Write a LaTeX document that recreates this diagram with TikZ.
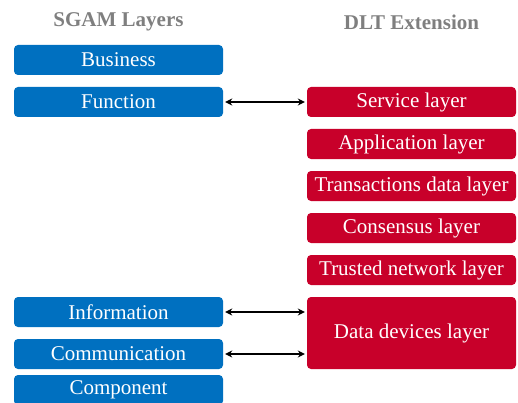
\documentclass[tikz,border=0pt]{standalone}
\usepackage{fontspec}
\setmainfont{Liberation Serif}
\usetikzlibrary{arrows.meta}
\definecolor{sgamblue}{HTML}{0070C0}
\definecolor{dltred}{HTML}{C8002A}
\definecolor{headgray}{HTML}{7F7F7F}
\begin{document}
\begin{tikzpicture}[x=1pt,y=1pt,
  lbox/.style={fill=sgamblue, draw=none, rounded corners=4pt, minimum width=209pt, minimum height=30pt, text=white, font=\fontsize{21}{21}\selectfont, inner sep=0pt},
  rbox/.style={fill=dltred, draw=none, rounded corners=4pt, minimum width=209pt, minimum height=30pt, text=white, font=\fontsize{21}{21}\selectfont, inner sep=0pt},
  head/.style={text=headgray, font=\fontsize{21}{21}\selectfont\bfseries},
  link/.style={{Stealth[length=7pt,width=7pt]}-{Stealth[length=7pt,width=7pt]}, line width=1.3pt, black}]
\useasboundingbox (0,0) rectangle (518,402);
\node[head] (h1) at (118.5,380) {SGAM Layers};
\node[head] (h2) at (411.5,380) {DLT Extension};
\node[lbox] (bus) at (118.5,342) {Business};
\node[lbox] (fun) at (118.5,300) {Function};
\node[lbox] (inf) at (118.5,90) {Information};
\node[lbox] (com) at (118.5,48) {Communication};
\node[lbox] (cmp) at (118.5,12) {Component};
\node[rbox] (srv) at (411.5,300) {Service layer};
\node[rbox] (app) at (411.5,258) {Application layer};
\node[rbox] (trn) at (411.5,216) {Transactions data layer};
\node[rbox] (cns) at (411.5,174) {Consensus layer};
\node[rbox] (tru) at (411.5,132) {Trusted network layer};
\node[rbox, minimum height=72pt] (dat) at (411.5,69) {Data devices layer};
\draw[link] ([xshift=2pt]fun.east) -- ([xshift=-2pt]srv.west);
\draw[link] ([xshift=2pt]inf.east) -- ([xshift=-2pt]inf.east -| dat.west);
\draw[link] ([xshift=2pt]com.east) -- ([xshift=-2pt]com.east -| dat.west);
\end{tikzpicture}
\end{document}
